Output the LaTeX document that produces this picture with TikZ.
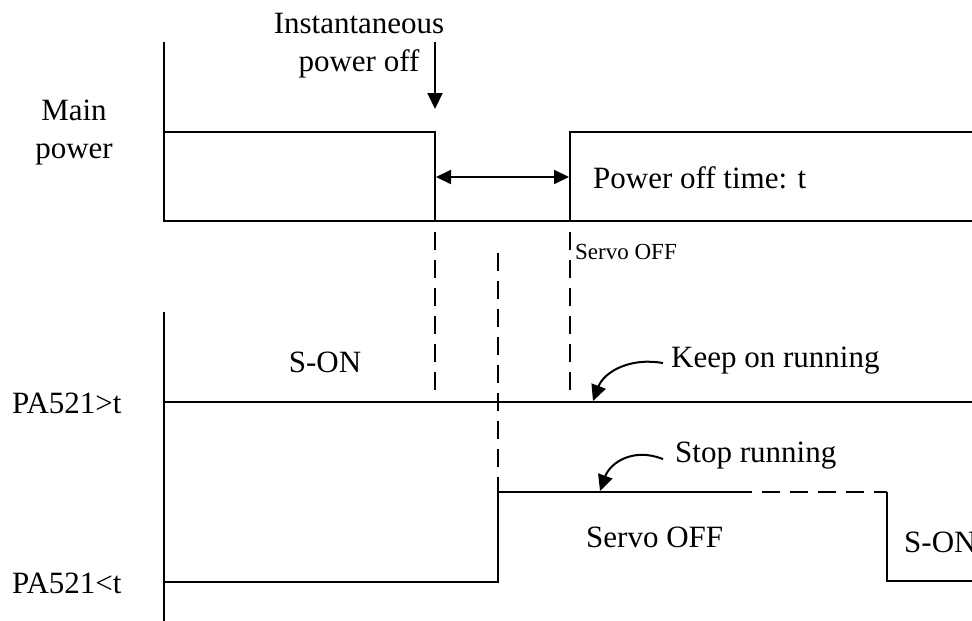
\documentclass[tikz,border=0pt]{standalone}
\usepackage{fontspec}
\setmainfont{Liberation Serif}
\usetikzlibrary{arrows.meta}
\begin{document}
\begin{tikzpicture}[x=1pt,y=-1pt,
  sig/.style={line width=2.2pt},
  dsh/.style={line width=2.2pt, dash pattern=on 18pt off 10pt},
  lbl/.style={font=\fontsize{31}{38}\selectfont, inner sep=0pt},
  smalllbl/.style={font=\fontsize{23}{26}\selectfont, inner sep=0pt},
  tipend/.style={line width=2pt, -{Triangle[length=16pt,width=15pt]}},
  tipboth/.style={line width=2pt, {Triangle[length=15pt,width=14pt]}-{Triangle[length=15pt,width=14pt]}}]
\useasboundingbox (0,0) rectangle (972,621);

% ---- labels
\node[lbl, align=center] (mainpw) at (74,133) {Main\\power};
\node[lbl, align=center] (inst) at (359,46) {Instantaneous\\power off};
\node[lbl, anchor=base west] (potime) at (593,188) {Power off time: t};
\node[smalllbl, anchor=base west] (soff1) at (575,259) {Servo OFF};
\node[lbl, anchor=base] (son1) at (325,372) {S-ON};
\node[lbl, anchor=base west] (pagt) at (12,413) {PA521>t};
\node[lbl, anchor=base west] (palt) at (12,593) {PA521<t};
\node[lbl, anchor=base west] (keep) at (671,367) {Keep on running};
\node[lbl, anchor=base west] (stop) at (675,462) {Stop running};
\node[lbl, anchor=base west] (soff2) at (586,547) {Servo OFF};
\node[lbl, anchor=base west] (son2) at (904,552) {S-ON};

% ---- coordinates
\coordinate (keeptip) at (593,401);
\coordinate (stoptip) at (600,491);
\coordinate (insttop) at (435,42);
\coordinate (insttip) at (435,109);

% ---- main power
\draw[sig] (164,42) -- (164,221) -- (972,221);
\draw[sig] (164,132) -- (435,132) -- (435,221);
\draw[sig] (570,221) -- (570,132) -- (972,132);
\draw[tipend] (insttop) -- (insttip);
\draw[tipboth] (436,177) -- (569,177);

% ---- dashed guides
\draw[dsh] (435,232) -- (435,390);
\draw[dsh] (570,232) -- (570,390);
\draw[dsh] (498,253) -- (498,492);

% ---- lower axis and signals
\draw[sig] (164,312) -- (164,621);
\draw[sig] (164,402) -- (972,402);
\draw[sig] (164,582) -- (498,582) -- (498,492) -- (752,492);
\draw[dsh] (762,492) -- (887,492);
\draw[sig] (887,492) -- (887,581) -- (972,581);

% ---- annotation arrows
\draw[tipend] ([xshift=-8pt,yshift=-3pt]keep.west) .. controls (630,357) and (604,372) .. (keeptip);
\draw[tipend] ([xshift=-12pt,yshift=-4pt]stop.west) .. controls (633,447) and (610,463) .. (stoptip);
\end{tikzpicture}
\end{document}
